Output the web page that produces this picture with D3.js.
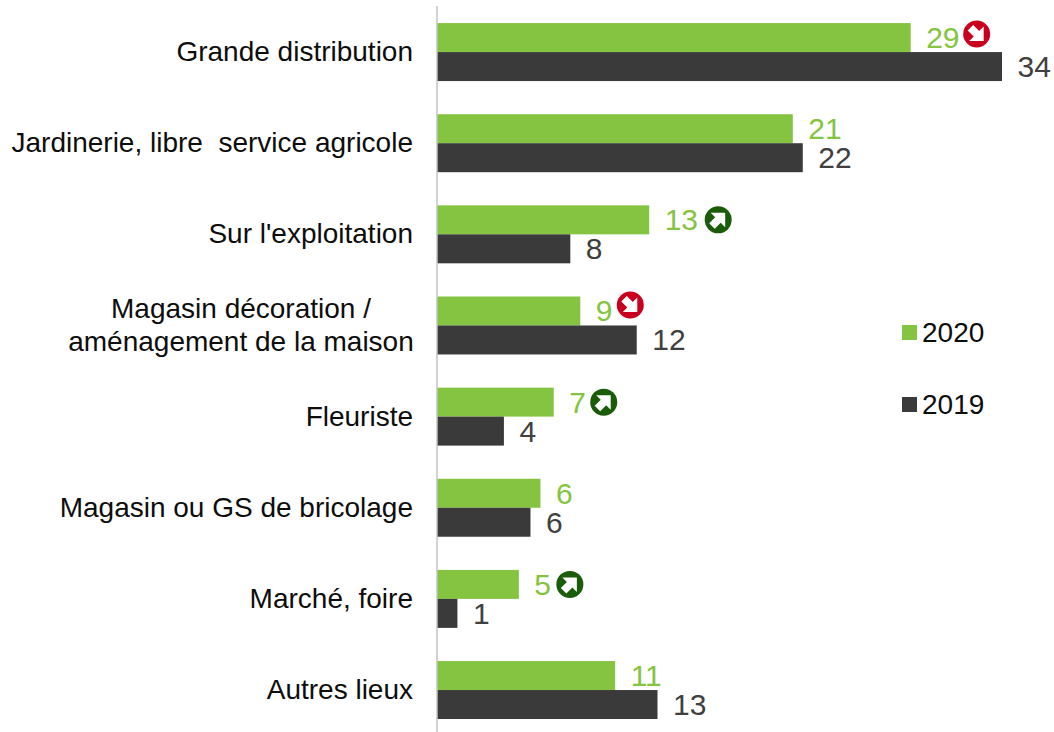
<!DOCTYPE html>
<html>
<head>
<meta charset="utf-8">
<script src="https://cdn.jsdelivr.net/npm/d3@7"></script>
<style>
  html, body { margin: 0; padding: 0; background: #fff; }
  svg { display: block; }
  text { font-family: "Liberation Sans", Arial, sans-serif; }
</style>
</head>
<body>
<svg id="chart" width="1054" height="732"></svg>
<script>
var categories = [
  ["Grande distribution"],
  ["Jardinerie, libre  service agricole"],
  ["Sur l'exploitation"],
  ["Magasin décoration /", "aménagement de la maison"],
  ["Fleuriste"],
  ["Magasin ou GS de bricolage"],
  ["Marché, foire"],
  ["Autres lieux"]
];
var seriesNames = ["2020", "2019"];
var values2020 = [28.5, 21.4, 12.75, 8.6, 7, 6.2, 4.9, 10.7];
var values2019 = [34, 22, 8, 12, 4, 5.6, 1.2, 13.25];
// up / down marker next to the 2020 label, null when no significant change
var trends = ["down", null, "up", "down", "up", null, "up", null];

var colors = { "2020": "#84c441", "2019": "#3a3a3a" };
var trendColors = { up: "#1a5c0a", down: "#c8001e" };

var svg = d3.select("#chart");

var x = d3.scaleLinear().domain([0, 34]).range([437.5, 1002]);
var y = d3.scaleBand()
  .domain(d3.range(categories.length))
  .range([6.5, 735.6])
  .paddingInner(0.364)
  .paddingOuter(0.182);
var inner = d3.scaleBand().domain(seriesNames).range([0, y.bandwidth()]);
var fmt = d3.format(".0f");

var series = [
  { name: "2020", values: values2020 },
  { name: "2019", values: values2019 }
];

series.forEach(function(s) {
  var g = svg.append("g");

  g.selectAll("rect")
    .data(s.values)
    .join("rect")
    .attr("x", x(0))
    .attr("y", function(d, i) { return y(i) + inner(s.name); })
    .attr("width", function(d) { return x(d) - x(0); })
    .attr("height", inner.bandwidth())
    .attr("fill", colors[s.name]);

  g.selectAll("text")
    .data(s.values)
    .join("text")
    .attr("x", function(d) { return x(d) + 15.5; })
    .attr("y", function(d, i) { return y(i) + inner(s.name) + inner.bandwidth() / 2 + 10.5; })
    .attr("font-size", 30)
    .attr("fill", s.name == "2020" ? colors["2020"] : "#404040")
    .text(function(d) { return fmt(d); });
});

// vertical axis line
svg.append("line")
  .attr("x1", 437).attr("x2", 437)
  .attr("y1", 6).attr("y2", 732)
  .attr("stroke", "#a6a6a6")
  .attr("stroke-width", 1);

// category labels, wrapped ones are centred on each other
var labels = svg.append("g");
categories.forEach(function(lines, i) {
  var cy = y(i) + y.bandwidth() / 2;
  var wrapped = lines.length > 1;
  lines.forEach(function(line, j) {
    labels.append("text")
      .attr("x", wrapped ? 241 : 413)
      .attr("y", cy + 9 + (j - (lines.length - 1) / 2) * 32.5)
      .attr("text-anchor", wrapped ? "middle" : "end")
      .attr("font-size", 28)
      .attr("fill", "#0d0d0d")
      .style("white-space", "pre")
      .text(line);
  });
});

// legend
var legend = svg.append("g");
seriesNames.forEach(function(name, i) {
  var top = 325 + i * 72;
  legend.append("rect")
    .attr("x", 902).attr("y", top)
    .attr("width", 15).attr("height", 15)
    .attr("fill", colors[name]);
  legend.append("text")
    .attr("x", 922).attr("y", top + 16.5)
    .attr("font-size", 28)
    .attr("fill", "#0d0d0d")
    .text(name);
});

// trend markers sit right after the 2020 label
var iconDx = [66, 0, 69, 50, 50, 0, 51, 0];
var iconDy = [-3.5, 0, 0, -6, 0, 0, 0, 0];
var icons = svg.append("g");
trends.forEach(function(t, i) {
  if (!t) return;
  var cx = x(values2020[i]) + iconDx[i];
  var cy = y(i) + inner.bandwidth() / 2 + iconDy[i];
  var g = icons.append("g").attr("transform", "translate(" + cx + "," + cy + ")");
  g.append("circle").attr("r", 13.5).attr("fill", trendColors[t]);
  var path = t == "up"
    ? "M-7.5,-7 L7,-7 L7,7.5 L2.5,3 L-3.5,9 L-9,3.5 L-3,-2.5 Z"
    : "M-7.5,7 L7,7 L7,-7.5 L2.5,-3 L-3.5,-9 L-9,-3.5 L-3,2.5 Z";
  g.append("path").attr("d", path).attr("fill", "#fff");
});
</script>
</body>
</html>
